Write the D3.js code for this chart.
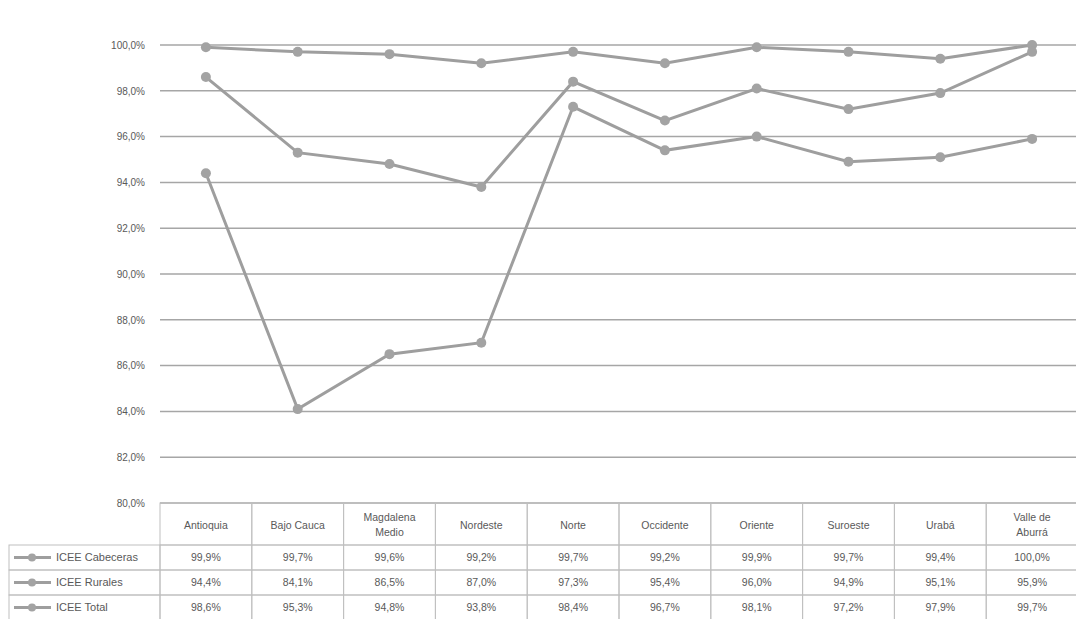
<!DOCTYPE html>
<html>
<head>
<meta charset="utf-8">
<script src="https://cdn.jsdelivr.net/npm/d3@7"></script>
<style>
  body { margin: 0; background: #fff; }
  text { font-family: "Liberation Sans", Arial, sans-serif; fill: #595959; }
</style>
</head>
<body>
<div id="chart-area"></div>
<script>
// subregiones de Antioquia
var categories = ["Antioquia", "Bajo Cauca", "Magdalena Medio", "Nordeste", "Norte",
  "Occidente", "Oriente", "Suroeste", "Urabá", "Valle de Aburrá"];
var headerLines = [["Antioquia"], ["Bajo Cauca"], ["Magdalena", "Medio"], ["Nordeste"], ["Norte"],
  ["Occidente"], ["Oriente"], ["Suroeste"], ["Urabá"], ["Valle de", "Aburrá"]];

var seriesNames = ["ICEE Cabeceras", "ICEE Rurales", "ICEE Total"];
var cabeceras = [99.9, 99.7, 99.6, 99.2, 99.7, 99.2, 99.9, 99.7, 99.4, 100.0];
var rurales   = [94.4, 84.1, 86.5, 87.0, 97.3, 95.4, 96.0, 94.9, 95.1, 95.9];
var total     = [98.6, 95.3, 94.8, 93.8, 98.4, 96.7, 98.1, 97.2, 97.9, 99.7];
var yTicks = [80, 82, 84, 86, 88, 90, 92, 94, 96, 98, 100];

var series = [cabeceras, rurales, total];

var width = 1076, height = 619;
var svg = d3.select("#chart-area")
  .append("svg")
  .attr("width", width)
  .attr("height", height);

var x = d3.scaleBand().domain(categories).range([160, 1078]);
var y = d3.scaleLinear().domain([80, 100]).range([503, 45]);

var fmt = v => d3.format(".1f")(v).replace(".", ",") + "%";

// grid lines
svg.selectAll(".grid")
  .data(yTicks)
  .enter()
  .append("line")
    .attr("x1", 160)
    .attr("x2", width)
    .attr("y1", d => y(d))
    .attr("y2", d => y(d))
    .attr("stroke", "#a6a6a6")
    .attr("stroke-width", 1.5);

// y axis
var yAxis = d3.axisLeft(y).tickValues(yTicks).tickFormat(fmt).tickSize(0).tickPadding(0);
var gy = svg.append("g").attr("transform", "translate(145,0)").call(yAxis);
gy.select(".domain").remove();
gy.selectAll("text").style("font-size", "10px").attr("fill", "#595959");

// lines
var line = d3.line()
  .x((d, i) => x(categories[i]) + x.bandwidth() / 2)
  .y(d => y(d));

series.forEach(s => {
  svg.append("path")
    .datum(s)
    .attr("d", line)
    .attr("fill", "none")
    .attr("stroke", "#9e9e9e")
    .attr("stroke-width", 3);
  svg.selectAll(null)
    .data(s)
    .enter()
    .append("circle")
      .attr("cx", (d, i) => x(categories[i]) + x.bandwidth() / 2)
      .attr("cy", d => y(d))
      .attr("r", 5)
      .attr("fill", "#a3a3a3");
});

// data table
var rowTop = 545, rowH = 25, tableLeft = 9;
var tbl = svg.append("g");
var border = "#bfbfbf";

// header cells
categories.forEach((c, i) => {
  tbl.append("rect")
    .attr("x", x(c)).attr("y", 503)
    .attr("width", x.bandwidth()).attr("height", rowTop - 503)
    .attr("fill", "none").attr("stroke", border);
  var lines = headerLines[i];
  lines.forEach((t, j) => {
    tbl.append("text")
      .attr("x", x(c) + x.bandwidth() / 2)
      .attr("y", 525 + (j - (lines.length - 1) / 2) * 15)
      .attr("dy", "0.35em")
      .attr("text-anchor", "middle")
      .style("font-size", "10.5px")
      .text(t);
  });
});

// data rows
series.forEach((s, r) => {
  var yTop = rowTop + r * rowH;
  tbl.append("rect")
    .attr("x", tableLeft).attr("y", yTop)
    .attr("width", 160 - tableLeft).attr("height", rowH)
    .attr("fill", "none").attr("stroke", border);
  tbl.append("line")
    .attr("x1", tableLeft + 5).attr("x2", tableLeft + 42)
    .attr("y1", yTop + rowH / 2).attr("y2", yTop + rowH / 2)
    .attr("stroke", "#9e9e9e").attr("stroke-width", 3);
  tbl.append("circle")
    .attr("cx", tableLeft + 23).attr("cy", yTop + rowH / 2)
    .attr("r", 4).attr("fill", "#a3a3a3");
  tbl.append("text")
    .attr("x", tableLeft + 47).attr("y", yTop + rowH / 2)
    .attr("dy", "0.35em")
    .style("font-size", "11px")
    .text(seriesNames[r]);
  s.forEach((v, i) => {
    tbl.append("rect")
      .attr("x", x(categories[i])).attr("y", yTop)
      .attr("width", x.bandwidth()).attr("height", rowH)
      .attr("fill", "none").attr("stroke", border);
    tbl.append("text")
      .attr("x", x(categories[i]) + x.bandwidth() / 2)
      .attr("y", yTop + rowH / 2)
      .attr("dy", "0.35em")
      .attr("text-anchor", "middle")
      .style("font-size", "10.5px")
      .text(fmt(v));
  });
});
</script>
</body>
</html>
